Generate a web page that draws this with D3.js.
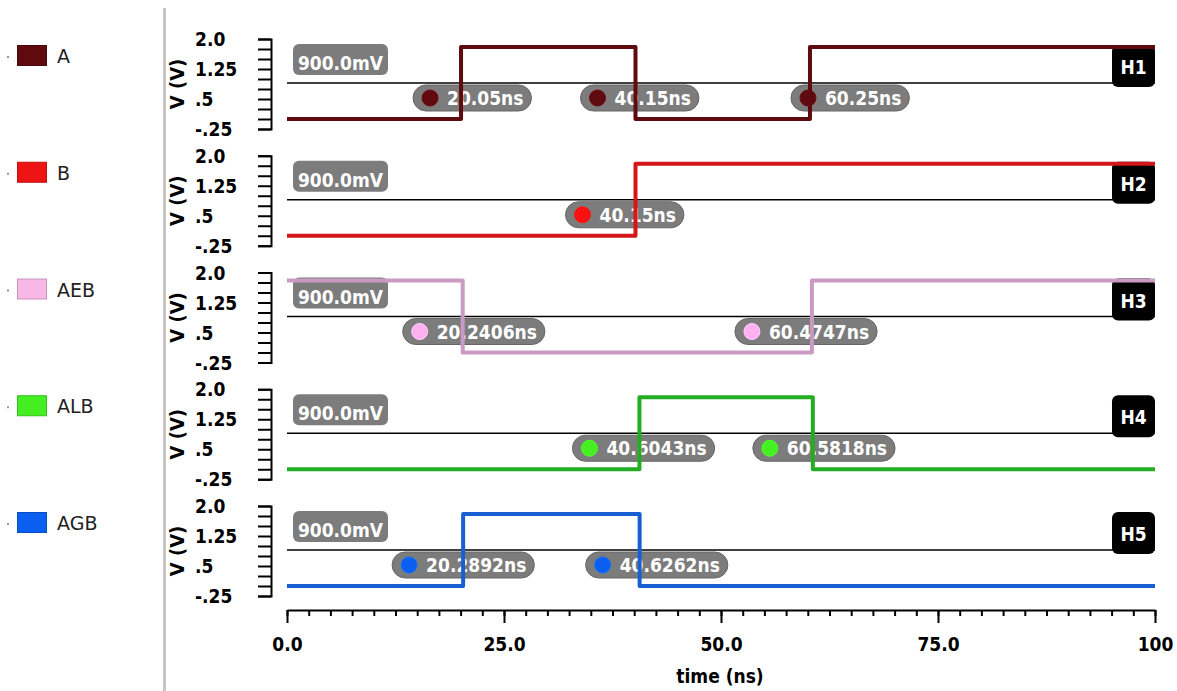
<!DOCTYPE html>
<html>
<head>
<meta charset="utf-8">
<script src="https://cdn.jsdelivr.net/npm/d3@7"></script>
<style>
  body { margin: 0; background: #fff; }
  svg { display: block; }
  .bold { font-family: "DejaVu Sans Condensed", "DejaVu Sans", sans-serif; font-weight: bold; font-stretch: condensed; }
  .legend-text { font-family: "DejaVu Sans", sans-serif; font-size: 19px; fill: #222; }
</style>
</head>
<body>
<div id="chart"></div>
<script>
// signals
const signalNames = ["A", "B", "AEB", "ALB", "AGB"];
const startLevels = [0, 0, 1.8, 0, 0];
const edgeTimes = [
    [20.05, 40.15, 60.25],
    [40.15],
    [20.2406, 60.4747],
    [40.6043, 60.5818],
    [20.2892, 40.6262]
];
const highLevel = 1.8;
const lowLevel = 0;
const thresholdV = 0.9;
const thresholdLabel = "900.0mV";
const markerNames = ["H1", "H2", "H3", "H4", "H5"];
const yTickValues = [2.0, 1.25, 0.5, -0.25];
const yTickLabels = ["2.0", "1.25", ".5", "-.25"];
const xTickValues = [0, 25, 50, 75, 100];
const xTickLabels = ["0.0", "25.0", "50.0", "75.0", "100"];

const lineColors = ["#5e0a0e", "#d4161a", "#c99ac4", "#22ad22", "#1a5fd2"];
const swatchColors = ["#5e0a0e", "#ee1414", "#f7b8e8", "#44ee22", "#0b5ff0"];
const dotColors = ["#5e0a0e", "#ff1010", "#ffb0f0", "#44f022", "#0b5ff0"];
// how far (px) each marker pill's dot sits from its crossing
const pillShift = [[-31, -38, -2], [-53], [-43, -60], [-50, -43], [-54, -37]];

const W = 1177, H = 691;
const panelTop0 = 39, panelPitch = 116.75, panelH = 90;

const svg = d3.select("#chart").append("svg")
    .attr("width", W).attr("height", H);

svg.append("rect").attr("width", W).attr("height", H).attr("fill", "#fff");

// left separator
svg.append("rect").attr("x", 163).attr("y", 8).attr("width", 3).attr("height", H - 8)
    .attr("fill", "#c6c6c6");

const x = d3.scaleLinear().domain([0, 100]).range([287, 1155]);

signalNames.forEach((name, i) => {
    const top = panelTop0 + panelPitch * i;
    const y = d3.scaleLinear().domain([-0.25, 2.0]).range([top + panelH, top]);

    // legend
    const ly = top + 17;
    svg.append("rect").attr("x", 7).attr("y", ly).attr("width", 2).attr("height", 2).attr("fill", "#999");
    svg.append("rect").attr("x", 17.5).attr("y", ly - 10.5).attr("width", 29).attr("height", 20)
        .attr("fill", swatchColors[i]).attr("stroke", d3.color(swatchColors[i]).darker(0.6)).attr("stroke-width", 1);
    svg.append("text").attr("class", "legend-text").attr("x", 57).attr("y", ly + 7).text(name);

    // y axis bracket
    const yAxis = d3.axisLeft(y)
        .tickValues(d3.range(-0.25, 2.01, 0.25))
        .tickSize(13).tickSizeOuter(13)
        .tickFormat("");
    const ag = svg.append("g").attr("transform", "translate(271,0)").call(yAxis);
    ag.selectAll("path, line").attr("stroke", "#000").attr("stroke-width", 2);

    svg.selectAll(null).data(yTickValues).enter().append("text")
        .attr("class", "bold")
        .attr("x", 195).attr("y", d => y(d) + 7)
        .attr("font-size", 19).attr("fill", "#000")
        .text((d, k) => yTickLabels[k]);

    svg.append("text").attr("class", "bold")
        .attr("transform", `translate(184,${top + 45}) rotate(-90)`)
        .attr("text-anchor", "middle").attr("font-size", 20).attr("fill", "#000")
        .text("V (V)");

    // threshold line + label
    svg.append("line").attr("x1", x(0)).attr("x2", x(100))
        .attr("y1", y(thresholdV)).attr("y2", y(thresholdV))
        .attr("stroke", "#000").attr("stroke-width", 1.6);
    svg.append("rect").attr("x", 293).attr("y", top + 5).attr("width", 95).attr("height", 31).attr("rx", 6)
        .attr("fill", "#7c7c7c");
    svg.append("text").attr("class", "bold").attr("x", 340.5).attr("y", top + 31)
        .attr("text-anchor", "middle").attr("font-size", 19).attr("fill", "#fff")
        .text(thresholdLabel);

    // marker pills
    edgeTimes[i].forEach((t, k) => {
        const cx = x(t) + pillShift[i][k];
        const cy = top + 59;
        const g = svg.append("g");
        const bg = g.append("rect").attr("y", cy - 13).attr("height", 26).attr("rx", 13)
            .attr("fill", "#7c7c7c").attr("stroke", "#666").attr("stroke-width", 1);
        g.append("circle").attr("cx", cx).attr("cy", cy).attr("r", 8)
            .attr("fill", dotColors[i]).attr("stroke", d3.color(dotColors[i]).brighter(0.5)).attr("stroke-width", 1);
        const txt = g.append("text").attr("class", "bold")
            .attr("x", cx + 17).attr("y", cy + 7)
            .attr("font-size", 19).attr("fill", "#fff")
            .text(t + "ns");
        const tw = txt.node().getComputedTextLength();
        bg.attr("x", cx - 17).attr("width", tw + 17 + 17 + 8);
    });

    // marker box
    svg.append("rect").attr("x", 1112).attr("y", top + 6).attr("width", 43).attr("height", 42).attr("rx", 6)
        .attr("fill", "#000");
    svg.append("text").attr("class", "bold").attr("x", 1133.5).attr("y", top + 35)
        .attr("text-anchor", "middle").attr("font-size", 19).attr("fill", "#fff")
        .text(markerNames[i]);

    // waveform
    const pts = [[0, startLevels[i]]];
    let level = startLevels[i];
    edgeTimes[i].forEach(t => {
        level = level === highLevel ? lowLevel : highLevel;
        pts.push([t, level]);
    });
    pts.push([100, level]);

    const line = d3.line()
        .x(d => x(d[0]))
        .y(d => y(d[1]))
        .curve(d3.curveStepAfter);

    svg.append("path").datum(pts)
        .attr("d", line)
        .attr("fill", "none")
        .attr("stroke", lineColors[i])
        .attr("stroke-width", 4)
        .attr("stroke-linejoin", "round");
});

// time axis
const axisY = 610;
const minor = svg.append("g").attr("transform", `translate(0,${axisY})`)
    .call(d3.axisBottom(x).tickValues(d3.range(0, 100.01, 2.5)).tickSize(6).tickSizeOuter(0).tickFormat(""));
minor.selectAll("path, line").attr("stroke", "#000").attr("stroke-width", 2);

const major = svg.append("g").attr("transform", `translate(0,${axisY})`)
    .call(d3.axisBottom(x).tickValues(xTickValues).tickSize(13).tickSizeOuter(0)
        .tickFormat((d, k) => xTickLabels[k]));
major.select(".domain").remove();
major.selectAll("line").attr("stroke", "#000").attr("stroke-width", 2);
major.selectAll("text")
    .attr("class", "bold").attr("font-size", 19).attr("fill", "#000")
    .attr("y", 28).attr("dy", "0.71em");

svg.append("text").attr("class", "bold")
    .attr("x", 720).attr("y", 683).attr("text-anchor", "middle")
    .attr("font-size", 19).attr("fill", "#000")
    .text("time (ns)");
</script>
</body>
</html>
